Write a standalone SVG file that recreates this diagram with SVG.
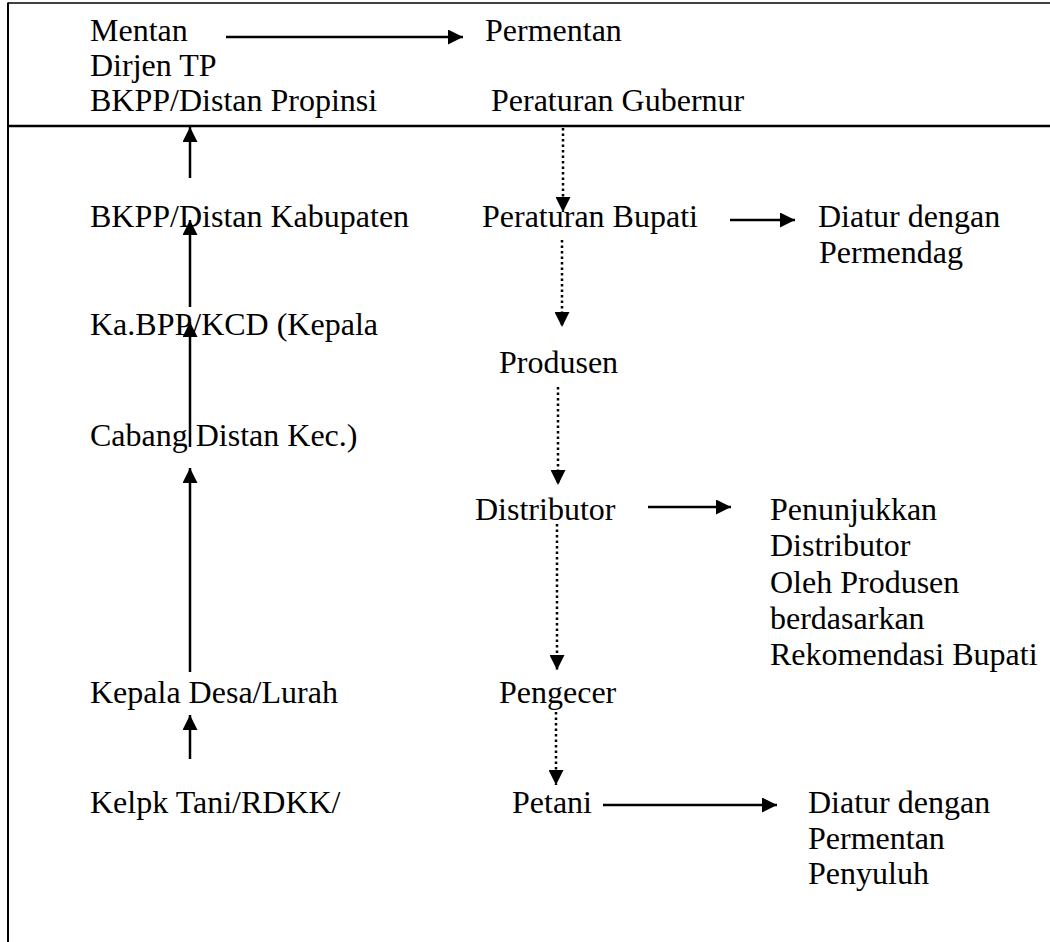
<svg xmlns="http://www.w3.org/2000/svg" width="1050" height="942" viewBox="0 0 1050 942">
<style>
text{font-family:"Liberation Serif","Times New Roman",serif;font-size:32px;fill:#000}
.solid{stroke:#000;stroke-width:2.5;fill:none}
.dot{stroke:#000;stroke-width:2.5;fill:none;stroke-dasharray:2.5 3}
.frame{stroke:#000;fill:none}
</style>
<defs>
<marker id="ah" viewBox="0 0 10 10" refX="10" refY="5" markerWidth="6" markerHeight="6" markerUnits="strokeWidth" orient="auto">
<path d="M0,0 L10,5 L0,10 Z" fill="#000"/>
</marker>
</defs>
<rect width="1050" height="942" fill="#fff"/>
<g id="frame">
<line class="frame" x1="8" y1="3" x2="1050" y2="3" stroke-width="1.5" stroke="#333"/>
<line class="frame" x1="8" y1="2.5" x2="8" y2="942" stroke-width="2"/>
<line class="frame" x1="8" y1="126" x2="1050" y2="126" stroke-width="2.5"/>
</g>
<g id="n-mentan"><text x="90" y="41">Mentan</text></g>
<g id="n-dirjen"><text x="90" y="76">Dirjen TP</text></g>
<g id="n-bkpp-prov"><text x="90" y="111">BKPP/Distan Propinsi</text></g>
<g id="n-permentan"><text x="485" y="41">Permentan</text></g>
<g id="n-pergub"><text x="491" y="111">Peraturan Gubernur</text></g>
<g id="n-bkpp-kab"><text x="90" y="227">BKPP/Distan Kabupaten</text></g>
<g id="n-perbup"><text x="482" y="227">Peraturan Bupati</text></g>
<g id="n-permendag"><text x="818" y="227">Diatur dengan</text><text x="819" y="263">Permendag</text></g>
<g id="n-kabpp"><text x="90" y="335">Ka.BPP/KCD (Kepala</text><text x="90" y="446">Cabang Distan Kec.)</text></g>
<g id="n-produsen"><text x="499" y="373">Produsen</text></g>
<g id="n-distributor"><text x="475" y="520">Distributor</text></g>
<g id="n-penunjukkan"><text x="770" y="520">Penunjukkan</text><text x="770" y="556">Distributor</text><text x="770" y="593">Oleh Produsen</text><text x="770" y="629">berdasarkan</text><text x="770" y="665">Rekomendasi Bupati</text></g>
<g id="n-kades"><text x="90" y="703">Kepala Desa/Lurah</text></g>
<g id="n-pengecer"><text x="499" y="703">Pengecer</text></g>
<g id="n-kelpk"><text x="90" y="813">Kelpk Tani/RDKK/</text></g>
<g id="n-petani"><text x="512" y="813">Petani</text></g>
<g id="n-permentan2"><text x="808" y="813">Diatur dengan</text><text x="808" y="849">Permentan</text><text x="808" y="884">Penyuluh</text></g>
<g id="connectors">
<line class="solid" x1="226" y1="37" x2="463" y2="37" marker-end="url(#ah)"/>
<line class="solid" x1="730" y1="220" x2="795" y2="220" marker-end="url(#ah)"/>
<line class="solid" x1="648" y1="507" x2="731" y2="507" marker-end="url(#ah)"/>
<line class="solid" x1="603" y1="805" x2="777" y2="805" marker-end="url(#ah)"/>
<line class="solid" x1="190" y1="178" x2="190" y2="127" marker-end="url(#ah)"/>
<line class="solid" x1="190" y1="307" x2="190" y2="220" marker-end="url(#ah)"/>
<line class="solid" x1="190" y1="447" x2="190" y2="322" marker-end="url(#ah)"/>
<line class="solid" x1="190" y1="672" x2="190" y2="468" marker-end="url(#ah)"/>
<line class="solid" x1="190" y1="759" x2="190" y2="715" marker-end="url(#ah)"/>
<line class="dot" x1="563" y1="128" x2="563" y2="212" marker-end="url(#ah)"/>
<line class="dot" x1="562" y1="240" x2="562" y2="327" marker-end="url(#ah)"/>
<line class="dot" x1="558" y1="387" x2="558" y2="485" marker-end="url(#ah)"/>
<line class="dot" x1="557" y1="524" x2="557" y2="670" marker-end="url(#ah)"/>
<line class="dot" x1="556" y1="712" x2="556" y2="785" marker-end="url(#ah)"/>
</g>
</svg>
